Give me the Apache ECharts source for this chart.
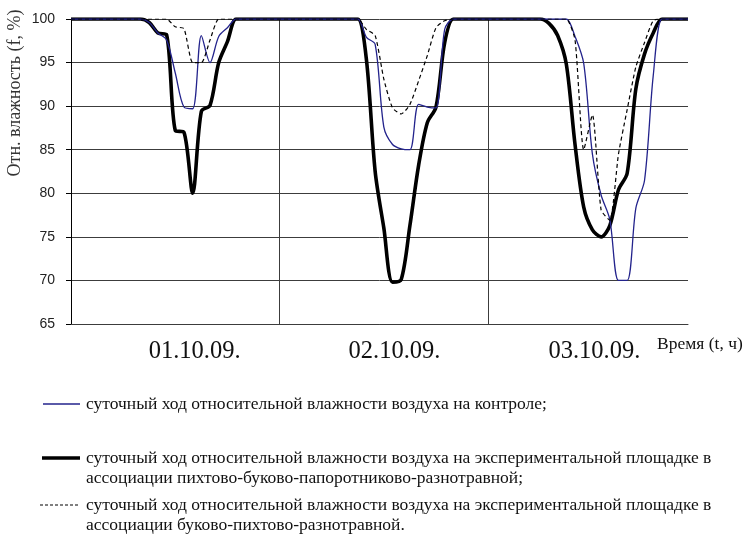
<!DOCTYPE html>
<html>
<head>
<meta charset="utf-8">
<script src="https://cdn.jsdelivr.net/npm/echarts@6/dist/echarts.min.js"></script>
<style>
  html, body { margin: 0; padding: 0; background: #fff; }
  #chart { width: 746px; height: 540px; }
</style>
</head>
<body>
<div id="chart"></div>
<script>
// Hourly relative air humidity (%), 01.10.09 – 03.10.09, 72 hourly readings
const hours = Array.from({ length: 72 }, (_, i) => i);
const dayLabels = ['01.10.09.', '02.10.09.', '03.10.09.'];
const yTicks = [65, 70, 75, 80, 85, 90, 95, 100];

const seriesNames = [
  'суточный ход относительной влажности воздуха на контроле;',
  'суточный ход относительной влажности воздуха на экспериментальной площадке в\nассоциации пихтово-буково-папоротниково-разнотравной;',
  'суточный ход относительной влажности воздуха на экспериментальной площадке в\nассоциации буково-пихтово-разнотравной.'
];

// control plot
const controlValues = [
  100, 100, 100, 100, 100, 100, 100, 100, 100, 99.6, 98.4, 97.6,
  93.8, 89.9, 89.7, 98.1, 95.0, 98.0, 99.0, 100, 100, 100, 100, 100,
  100, 100, 100, 100, 100, 100, 100, 100, 100, 100, 97.9, 97.1,
  87.6, 85.6, 85.1, 85.0, 90.2, 89.9, 89.8, 98.8, 100, 100, 100, 100,
  100, 100, 100, 100, 100, 100, 100, 100, 100, 100, 98.0, 94.9,
  84.5, 79.8, 77.0, 70.0, 70.0, 78.3, 81.5, 93.5, 100, 100, 100, 100
];

// fir-beech-fern-forb association
const firBeechValues = [
  100, 100, 100, 100, 100, 100, 100, 100, 100, 99.6, 98.4, 98.2,
  87.2, 87.0, 80.0, 89.4, 90.1, 95.0, 97.4, 100, 100, 100, 100, 100,
  100, 100, 100, 100, 100, 100, 100, 100, 100, 100, 95.3, 82.5,
  76.0, 69.8, 70.1, 76.3, 83.2, 88.1, 89.9, 97.3, 100, 100, 100, 100,
  100, 100, 100, 100, 100, 100, 100, 99.5, 98.1, 94.8, 85.6, 78.4,
  75.8, 75.0, 76.3, 80.4, 82.3, 92.0, 96.0, 98.4, 100, 100, 100, 100
];

// beech-fir-forb association
const beechFirValues = [
  100, 100, 100, 100, 100, 100, 100, 100, 100, 100, 100, 100,
  99.1, 98.9, 95.0, 95.0, 97.6, 100, 100, 100, 100, 100, 100, 100,
  100, 100, 100, 100, 100, 100, 100, 100, 100, 100, 98.8, 98.1,
  93.1, 89.8, 89.1, 90.2, 92.9, 95.8, 99.0, 99.8, 100, 100, 100, 100,
  100, 100, 100, 100, 100, 100, 100, 100, 100, 100, 97.6, 85.0,
  89.0, 78.1, 76.9, 84.5, 89.6, 94.5, 97.3, 99.8, 100, 100, 100, 100
];

const serif = 'Liberation Serif, "Times New Roman", serif';
const sans = 'Liberation Sans, Arial, sans-serif';
const gridColor = '#3c3c3c';
const blue = '#23238c';

// hour index under each date label, and day boundaries
const labelHours = [14, 37, 60];
const dayBounds = [24, 48];

const chart = echarts.init(document.getElementById('chart'), null, { renderer: 'canvas' });

const legendRows = [
  { y: 404, color: blue, width: 1.3, dash: null, x1: 43 },
  { y: 458, color: '#000', width: 3.6, dash: null, x1: 42 },
  { y: 505, color: '#000', width: 1.1, dash: [3, 2], x1: 40 }
];

const graphic = [
  {
    type: 'text', x: 15, y: 93, rotation: Math.PI / 2,
    style: { text: 'Отн. влажность (f, %)', font: '18px ' + serif, fill: '#333',
             align: 'center', verticalAlign: 'middle' }
  },
  {
    type: 'text', x: 657, y: 344,
    style: { text: 'Время (t, ч)', font: '17.5px ' + serif, fill: '#111',
             align: 'left', verticalAlign: 'middle' }
  }
];
legendRows.forEach((r, i) => {
  graphic.push({
    type: 'line',
    shape: { x1: r.x1, y1: r.y, x2: 80, y2: r.y },
    style: { stroke: r.color, lineWidth: r.width, lineDash: r.dash }
  });
  graphic.push({
    type: 'text', x: 86, y: r.y - 10,
    style: { text: seriesNames[i], font: '17.5px ' + serif, fill: '#111',
             align: 'left', verticalAlign: 'top', lineHeight: 20 }
  });
});

chart.setOption({
  animation: false,
  backgroundColor: '#fff',
  grid: { left: 71, right: 58, top: 19, bottom: 216, containLabel: false },
  xAxis: {
    type: 'category',
    data: hours,
    boundaryGap: false,
    axisLine: { show: true, lineStyle: { color: gridColor, width: 1 } },
    axisTick: { show: false },
    axisLabel: {
      interval: (i) => labelHours.includes(i),
      formatter: (v, i) => dayLabels[labelHours.indexOf(i)] || '',
      fontFamily: serif, fontSize: 24.5, color: '#111', margin: 15,
      padding: [0, 0, 0, 4]
    },
    splitLine: {
      show: true,
      interval: (i) => dayBounds.includes(i),
      lineStyle: { color: gridColor, width: 1 }
    }
  },
  yAxis: {
    type: 'value',
    min: yTicks[0], max: yTicks[yTicks.length - 1], interval: 5,
    axisLine: { show: true, lineStyle: { color: '#000', width: 1 } },
    axisTick: { show: true, length: 5, lineStyle: { color: '#000' } },
    axisLabel: { fontFamily: sans, fontSize: 14, color: '#222', margin: 16 },
    splitLine: { show: true, lineStyle: { color: gridColor, width: 1 } }
  },
  series: [
    {
      name: seriesNames[0], type: 'line', data: controlValues,
      showSymbol: false, smooth: 0.3,
      lineStyle: { color: blue, width: 1.3 }, z: 3
    },
    {
      name: seriesNames[1], type: 'line', data: firBeechValues,
      showSymbol: false, smooth: 0.3,
      lineStyle: { color: '#000', width: 3.6 }, z: 2
    },
    {
      name: seriesNames[2], type: 'line', data: beechFirValues,
      showSymbol: false, smooth: 0.2,
      lineStyle: { color: '#000', width: 1.2, type: [4, 3] }, z: 4
    }
  ],
  graphic: graphic
});
</script>
</body>
</html>
